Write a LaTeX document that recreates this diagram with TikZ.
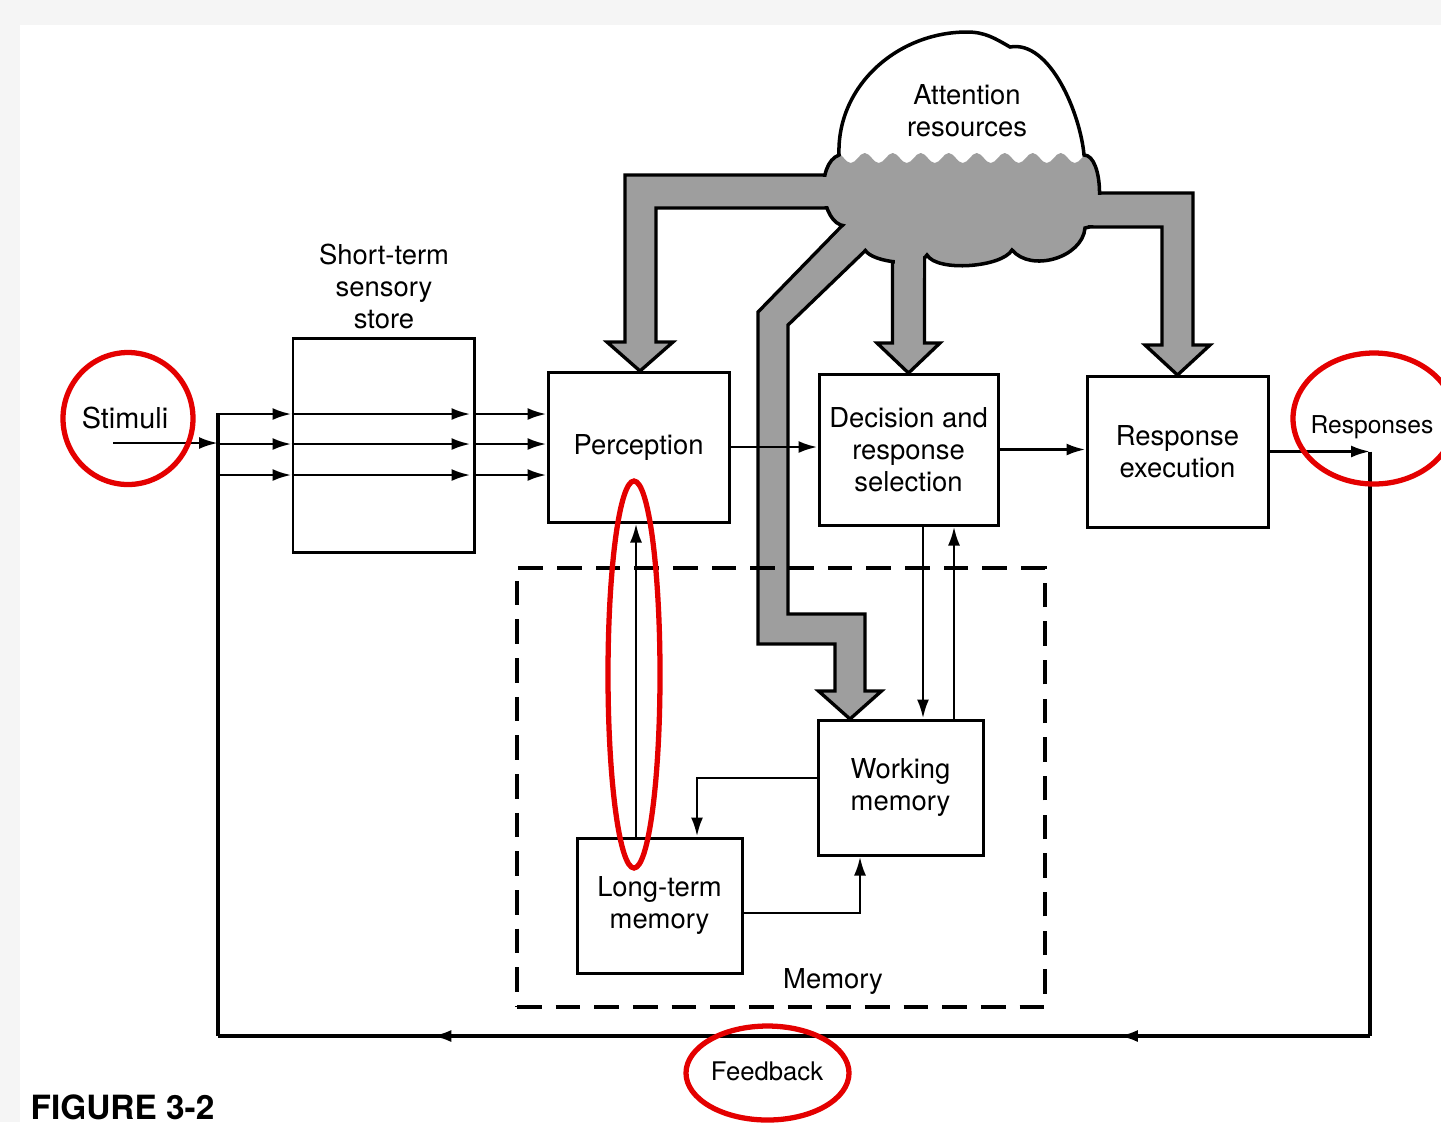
\documentclass[tikz,border=0pt]{standalone}
\usepackage{fontspec}
\setmainfont{TeX Gyre Heros}
\usetikzlibrary{arrows.meta,decorations.pathmorphing,decorations.markings}

\definecolor{stipple}{gray}{0.62}
\definecolor{markred}{RGB}{228,0,0}
\newcommand{\lbl}{\fontsize{7.8}{9.1}\selectfont}
\newcommand{\cloudpath}{(8.39,-1.55) to[out=92,in=180] (9.67,-0.32) to[out=0,in=150] (10.10,-0.47)
    to[out=10,in=95,looseness=0.8] (10.84,-1.55) to[out=0,in=0,looseness=0.7] (10.85,-2.28)
    to[out=-95,in=-50] (10.12,-2.50) to[out=-120,in=-60,looseness=0.6] (9.27,-2.55)
    to[out=-120,in=-60,looseness=0.6] (8.65,-2.50) to[out=135,in=-60] (8.45,-2.26)
    to[out=175,in=200,looseness=0.9] (8.39,-1.55) -- cycle}

\begin{document}
\begin{tikzpicture}[
    box/.style={draw, line width=0.85pt, align=center, inner sep=1pt, font=\lbl},
    membox/.style={draw, line width=0.9pt, dash pattern=on 7pt off 4pt},
    arr/.style={-{Latex[length=1.9mm,width=1.2mm]}, line width=0.8pt},
    band/.style={fill=stipple, draw, line width=0.95pt},
    redmark/.style={draw=markred, line width=1.5pt},
    fbline/.style={line width=0.9pt, postaction={decorate}, decoration={markings,
        mark=at position 0.218 with {\arrow{Latex[length=1.9mm,width=1.2mm]}},
        mark=at position 0.814 with {\arrow{Latex[length=1.9mm,width=1.2mm]}}}}
]
    \useasboundingbox (0,0) rectangle (14.41,-11.22);
    \fill[black!4] (0,0) rectangle (14.41,-11.22);
    \fill[white] (0.2,-0.25) rectangle (14.41,-11.22);

    % Attention bands
    \draw[band] (8.60,-1.75) -- (6.25,-1.75) -- (6.25,-3.42) -- (6.07,-3.42) -- (6.40,-3.71)
        -- (6.73,-3.42) -- (6.56,-3.42) -- (6.56,-2.08) -- (8.60,-2.08) -- cycle;
    \draw[band] (8.925,-2.40) -- (8.925,-3.43) -- (8.77,-3.43) -- (9.085,-3.73)
        -- (9.40,-3.43) -- (9.245,-3.43) -- (9.245,-2.40) -- cycle;
    \draw[band] (10.80,-1.93) -- (11.93,-1.93) -- (11.93,-3.45) -- (12.10,-3.45) -- (11.775,-3.75)
        -- (11.45,-3.45) -- (11.62,-3.45) -- (11.62,-2.27) -- (10.80,-2.27) -- cycle;
    \draw[band] (8.70,-1.97) -- (7.58,-3.12) -- (7.58,-6.44) -- (8.35,-6.44) -- (8.35,-6.91)
        -- (8.185,-6.91) -- (8.50,-7.19) -- (8.815,-6.91) -- (8.65,-6.91) -- (8.65,-6.14)
        -- (7.88,-6.14) -- (7.88,-3.25) -- (8.95,-2.22) -- cycle;

    % Cloud
    \fill[white] \cloudpath;
    \begin{scope}
        \clip \cloudpath;
        \fill[stipple] (8.0,-1.58) decorate[decoration={snake, amplitude=0.5mm, segment length=2.8mm}]
            {-- (11.2,-1.58)} -- (11.2,-3.0) -- (8.0,-3.0) -- cycle;
    \end{scope}
    \draw[line width=1pt] \cloudpath;
    \fill[stipple] (8.10,-1.768) rectangle (8.55,-2.062);
    \fill[stipple] (8.945,-2.38) rectangle (9.225,-2.78);
    \fill[stipple] (10.75,-1.948) rectangle (11.15,-2.252);
    \fill[stipple] (8.314,-2.395) -- (8.614,-2.086) -- (8.886,-2.254) -- (8.606,-2.523) -- cycle;
    \node[align=center, font=\lbl] (attn) at (9.67,-1.11) {Attention\\resources};

    % Stages
    \node[box, minimum width=1.81cm, minimum height=2.14cm] (sensory) at (3.835,-4.45) {};
    \node[align=center, font=\lbl] (senslbl) at (3.84,-2.865) {Short-term\\sensory\\store};
    \node[box, minimum width=1.81cm, minimum height=1.50cm] (perc) at (6.385,-4.47) {Perception};
    \node[box, minimum width=1.79cm, minimum height=1.51cm] (dec) at (9.085,-4.495) {Decision and\\response\\selection};
    \node[box, minimum width=1.81cm, minimum height=1.51cm] (resp) at (11.775,-4.515) {Response\\execution};

    % Memory
    \node[membox, minimum width=5.28cm, minimum height=4.39cm] (mem) at (7.81,-7.875) {};
    \node[font=\lbl] (memlbl) at (8.33,-9.81) {Memory};
    \node[box, minimum width=1.65cm, minimum height=1.35cm] (wm) at (9.005,-7.875) {Working\\memory};
    \node[box, minimum width=1.65cm, minimum height=1.35cm] (ltm) at (6.595,-9.055) {Long-term\\memory};

    % Stimuli
    \node[font=\fontsize{8.2}{10}\selectfont] (stim) at (1.25,-4.18) {Stimuli};
    \coordinate (stimin) at (1.13,-4.43);
    \coordinate (split) at (2.18,-4.13);
    \coordinate (fbl) at (2.18,-10.36);
    \draw[arr] (stimin) -- (stimin -| split);
    \draw[line width=0.9pt] (split) -- (fbl);
    \foreach \y in {4.14,4.44,4.75} {
        \draw[arr] (split |- 0,-\y) -- (sensory.west |- 0,-\y);
        \draw[arr] (sensory.west |- 0,-\y) -- ([xshift=-0.05cm]sensory.east |- 0,-\y);
        \draw[arr] (sensory.east |- 0,-\y) -- (perc.west |- 0,-\y);
    }

    % Flow
    \draw[arr] (perc.east) -- (perc.east -| dec.west);
    \draw[arr] (dec.east) -- (dec.east -| resp.west);
    \coordinate (rcorner) at (13.70,-4.515);
    \coordinate (fbr) at (13.70,-10.36);
    \node[font=\fontsize{7}{8.5}\selectfont] (respout) at (13.72,-4.27) {Responses};
    \draw[arr] (resp.east) -- (rcorner);
    \draw[line width=0.9pt] (rcorner) -- (fbr);
    \draw[fbline] (fbr) -- (fbl);
    \node[font=\fontsize{7.3}{9}\selectfont] (fb) at (7.67,-10.71) {Feedback};

    % Memory links
    \draw[arr] (6.36,0 |- ltm.north) -- (6.36,0 |- perc.south);
    \draw[arr] ([yshift=0.095cm]wm.west) -| ([xshift=0.375cm]ltm.north);
    \draw[arr] ([yshift=-0.075cm]ltm.east) -| ([xshift=-0.405cm]wm.south);
    \draw[arr] ([xshift=0.145cm]dec.south) -- ([xshift=0.145cm]dec.south |- wm.north);
    \draw[arr] ([xshift=0.455cm]dec.south |- wm.north) -- ([xshift=0.455cm]dec.south);

    % Caption
    \node[anchor=base west, font=\bfseries\fontsize{9.5}{11}\selectfont, inner sep=0pt] (cap) at (0.30,-11.19) {FIGURE 3-2};

    % Red marks
    \draw[redmark] (1.28,-4.185) ellipse [x radius=0.65, y radius=0.66];
    \draw[redmark] (13.74,-4.185) ellipse [x radius=0.81, y radius=0.655];
    \draw[redmark] (7.675,-10.73) ellipse [x radius=0.815, y radius=0.47];
    \draw[redmark] (6.34,-6.745) ellipse [x radius=0.26, y radius=1.935];
\end{tikzpicture}
\end{document}
